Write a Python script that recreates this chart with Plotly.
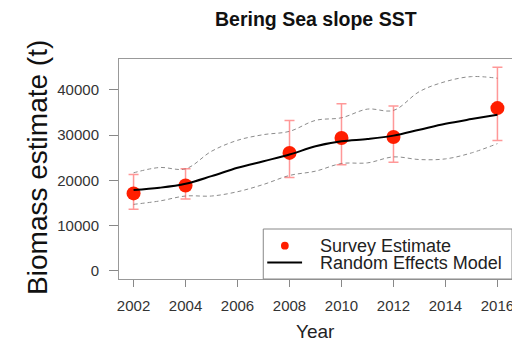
import plotly.graph_objects as go

# Survey estimates (points with error bars)
survey_years = [2002, 2004, 2008, 2010, 2012, 2016]
survey_est = [17110, 18870, 26055, 29350, 29570, 35950]
survey_lo = [13590, 15870, 20630, 23415, 24000, 28770]
survey_hi = [21290, 22535, 33240, 36900, 36390, 44960]

# Random effects model (yearly)
model_years = list(range(2002, 2017))
model_est = [17850, 18360, 19240, 20920, 22760, 24220, 25690, 27520, 28620,
             29130, 29870, 31190, 32500, 33530, 34480]
model_upper = [21660, 22830, 22535, 26420, 28840, 30090, 30820, 33240, 33820,
               35730, 35440, 39615, 41810, 42910, 42550]
model_lower = [14690, 15430, 16530, 16530, 17480, 19090, 21070, 22020, 23710,
               23855, 25170, 24590, 24735, 26055, 28110]

x_ticks = [2002, 2004, 2006, 2008, 2010, 2012, 2014, 2016]
y_ticks = [0, 10000, 20000, 30000, 40000]

FONT = "Liberation Sans, Arial, Helvetica, sans-serif"
RED = "#ff1e00"

fig = go.Figure()

fig.add_trace(go.Scatter(x=model_years, y=model_upper, mode="lines",
                         line=dict(color="#8c8c8c", width=1, dash="4px,3px", shape="spline"),
                         hoverinfo="skip", showlegend=False))
fig.add_trace(go.Scatter(x=model_years, y=model_lower, mode="lines",
                         line=dict(color="#8c8c8c", width=1, dash="4px,3px", shape="spline"),
                         hoverinfo="skip", showlegend=False))

err_plus = [h - e for h, e in zip(survey_hi, survey_est)]
err_minus = [e - l for e, l in zip(survey_est, survey_lo)]
fig.add_trace(go.Scatter(x=survey_years, y=survey_est, mode="markers",
                         marker=dict(color=RED, size=14, line=dict(width=0)),
                         error_y=dict(type="data", symmetric=False, array=err_plus,
                                      arrayminus=err_minus, color="rgba(255,50,50,0.5)",
                                      thickness=1.5, width=5),
                         name="Survey Estimate", showlegend=False))

fig.add_trace(go.Scatter(x=model_years, y=model_est, mode="lines",
                         line=dict(color="black", width=2, shape="spline"),
                         name="Random Effects Model", showlegend=False))

# The page body adds an 8px margin, so the figure is drawn 8px in from the corner.
OFF = 8
W, H = 520 - OFF, 348 - OFF
PL, PR, PT, PB = 119, 514, 59, 279   # plot box in page pixels
L, R, T, B = PL - OFF, W - (PR - OFF), PT - OFF, H - (PB - OFF)
pw, ph = PR - PL, PB - PT


def px(xp):
    return (xp - PL) / pw


def py(yp):
    return (PB - yp) / ph


# Legend box in the bottom-right corner of the plot
shapes = [
    dict(type="rect", xref="paper", yref="paper", x0=px(264), x1=1, y0=0, y1=py(229),
         line=dict(color="#888", width=1), fillcolor="white", layer="above"),
    dict(type="circle", xref="paper", yref="paper", x0=px(281.8), x1=px(289.6),
         y0=py(249.6), y1=py(241.8), line=dict(width=0), fillcolor=RED, layer="above"),
    dict(type="line", xref="paper", yref="paper", x0=px(268), x1=px(303),
         y0=py(262.5), y1=py(262.5), line=dict(color="black", width=2), layer="above"),
]

annotations = [
    dict(text="Survey Estimate", xref="paper", yref="paper", x=px(319), y=py(246),
         xanchor="left", yanchor="middle", showarrow=False,
         font=dict(family=FONT, size=18, color="#222")),
    dict(text="Random Effects Model", xref="paper", yref="paper", x=px(319), y=py(262.5),
         xanchor="left", yanchor="middle", showarrow=False,
         font=dict(family=FONT, size=18, color="#222")),
    dict(text="Biomass estimate (t)", xref="paper", yref="paper", x=px(37), y=py(167.5),
         xanchor="center", yanchor="middle", textangle=-90, showarrow=False,
         font=dict(family=FONT, size=28, color="#111")),
    dict(text="Year", xref="paper", yref="paper", x=px(316), y=py(331),
         xanchor="center", yanchor="middle", showarrow=False,
         font=dict(family=FONT, size=19, color="#222")),
    dict(text="<b>Bering Sea slope SST</b>", xref="paper", yref="paper", x=px(316.5), y=py(19),
         xanchor="center", yanchor="middle", showarrow=False,
         font=dict(family=FONT, size=19.5, color="#111")),
]

fig.update_layout(
    width=W, height=H,
    margin=dict(l=L, r=R, t=T, b=B, pad=0),
    paper_bgcolor="white", plot_bgcolor="white",
    font=dict(family=FONT),
    showlegend=False,
    shapes=shapes,
    annotations=annotations,
    xaxis=dict(range=[2001.44, 2016.56], tickvals=x_ticks, ticktext=[str(v) for v in x_ticks],
               ticks="outside", ticklen=7, tickcolor="#888", tickwidth=1,
               showline=True, linecolor="#999", linewidth=1, mirror=True,
               showgrid=False, zeroline=False, ticklabelstandoff=6,
               tickfont=dict(family=FONT, size=15, color="#333")),
    yaxis=dict(range=[-1800, 46800], tickvals=y_ticks, ticktext=[str(v) for v in y_ticks],
               ticks="outside", ticklen=9, tickcolor="#888", tickwidth=1,
               showline=True, linecolor="#999", linewidth=1, mirror=True,
               showgrid=False, zeroline=False, ticklabelstandoff=7,
               tickfont=dict(family=FONT, size=15, color="#333")),
)

fig.write_html("out.html")
